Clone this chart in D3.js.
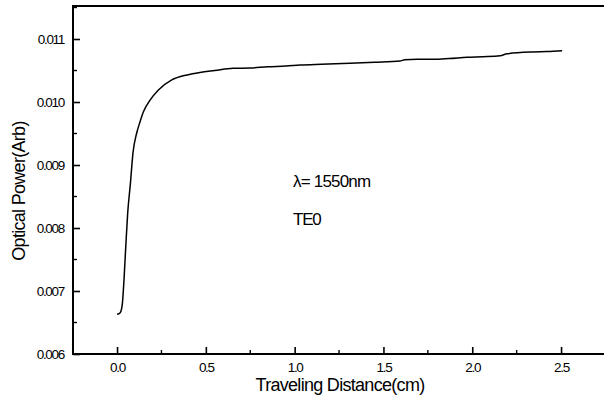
<!DOCTYPE html>
<html><head><meta charset="utf-8">
<script src="https://cdn.jsdelivr.net/npm/d3@7"></script>
<style>body{margin:0;background:#fff}svg{display:block}text{font-family:"Liberation Sans",Arial,sans-serif;fill:#000}</style>
</head><body>
<script>
const distance = [0.000,0.012,0.022,0.030,0.039,0.049,0.060,0.075,0.090,0.110,0.130,0.148,0.186,0.233,0.308,0.394,0.467,0.55,0.653,0.75,0.85,0.95,1.03,1.15,1.312,1.45,1.593,1.62,1.689,1.779,1.87,1.971,2.06,2.157,2.196,2.342,2.42,2.506];
const power = [0.00663,0.00664,0.00668,0.00680,0.00717,0.00770,0.00824,0.00870,0.00920,0.00950,0.00969,0.00984,0.01003,0.01019,0.01035,0.01043,0.01047,0.01050,0.010535,0.01054,0.01056,0.01057,0.010587,0.01060,0.010614,0.01063,0.010651,0.01067,0.010678,0.010678,0.01069,0.010710,0.01072,0.010735,0.010765,0.010794,0.01080,0.010814];
const xTicks = [0,0.5,1.0,1.5,2.0,2.5];
const xMinor = [0.25,0.75,1.25,1.75,2.25,2.75];
const yTicks = [0.006,0.007,0.008,0.009,0.010,0.011];
const yMinor = [0.0065,0.0075,0.0085,0.0095,0.0105,0.0115];
const annotations = ["λ= 1550nm","TE0"];
const xTitle = "Traveling Distance(cm)";
const yTitle = "Optical Power(Arb)";

const W=604,H=405;
const L=73,R=609,T=6,B=354;
const x=d3.scaleLinear().domain([-0.248,2.77]).range([L,R]);
const y=d3.scaleLinear().domain([0.006,0.011524]).range([B,T]);
const svg=d3.select("body").append("svg").attr("width",W).attr("height",H);

// curve
svg.append("path").datum(distance.map((d,i)=>[d,power[i]]))
  .attr("fill","none").attr("stroke","#000").attr("stroke-width",1.5)
  .attr("d",d3.line().curve(d3.curveMonotoneX).x(d=>x(d[0])).y(d=>y(d[1])));

// axes (ticks inward)
const xAxis=svg.append("g").attr("transform",`translate(0,${B})`)
  .call(d3.axisBottom(x).tickValues(xTicks).tickSizeInner(-7).tickSizeOuter(0).tickPadding(8).tickFormat(d3.format(".1f")));
const yAxis=svg.append("g").attr("transform",`translate(${L},0)`)
  .call(d3.axisLeft(y).tickValues(yTicks).tickSizeInner(-7).tickSizeOuter(0).tickPadding(9).tickFormat(d3.format(".3f")));
[xAxis,yAxis].forEach(g=>{
  g.select(".domain").remove();
  g.selectAll(".tick line").attr("stroke","#000").attr("stroke-width",1.6);
  g.selectAll("text").attr("font-size",13.5).attr("letter-spacing","-1.3px").attr("font-family",null);
});
xAxis.selectAll("text").attr("dy","0.71em").attr("y",8);
yAxis.selectAll("text").attr("dy","0.36em");
// minor ticks
svg.append("g").selectAll("line").data(xMinor.filter(d=>x(d)<W)).join("line")
  .attr("x1",d=>x(d)).attr("x2",d=>x(d)).attr("y1",B).attr("y2",B-4).attr("stroke","#000").attr("stroke-width",1.4);
svg.append("g").selectAll("line").data(yMinor).join("line")
  .attr("y1",d=>y(d)).attr("y2",d=>y(d)).attr("x1",L).attr("x2",L+4).attr("stroke","#000").attr("stroke-width",1.4);

// frame
svg.append("rect").attr("x",L).attr("y",T).attr("width",R-L).attr("height",B-T)
  .attr("fill","none").attr("stroke","#000").attr("stroke-width",2);

// titles
svg.append("text").attr("x",340).attr("y",391).attr("text-anchor","middle")
  .attr("font-size",18).attr("letter-spacing","-0.7px").text(xTitle);
svg.append("text").attr("transform","translate(25,191) rotate(-90)").attr("text-anchor","middle")
  .attr("font-size",18).attr("letter-spacing","-0.7px").text(yTitle);

// annotations
svg.append("text").attr("x",293).attr("y",187).attr("font-size",17).attr("letter-spacing","-0.8px").text(annotations[0]);
svg.append("text").attr("x",293).attr("y",225).attr("font-size",17).attr("letter-spacing","-1.2px").text(annotations[1]);
</script>
</body></html>
